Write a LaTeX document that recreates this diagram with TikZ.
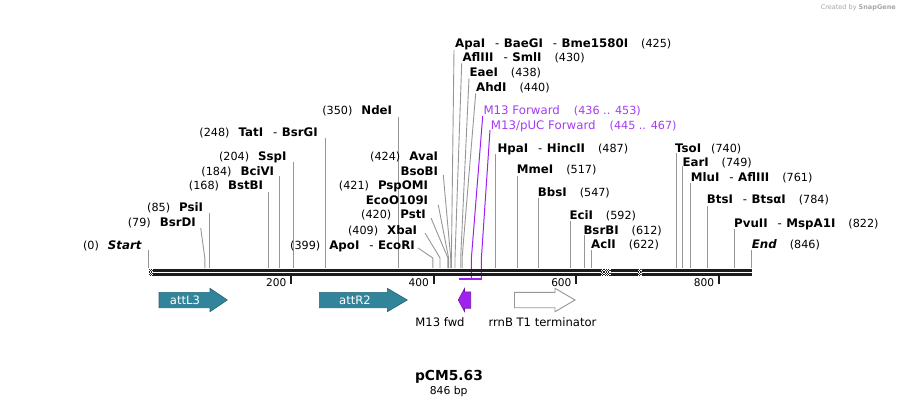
\documentclass[tikz,border=0pt]{standalone}
\usepackage{fontspec}
\setmainfont{DejaVu Sans}
\newcommand{\nm}{\fontsize{11.8}{13}\selectfont\bfseries}
\newcommand{\nmb}{\fontsize{11.2}{13}\selectfont\mdseries}
\newcommand{\ds}{\hspace{10pt}{\mdseries -}\hspace{4.5pt}}
\newcommand{\llab}[2]{{\nmb (#1)}\hspace{9pt}{\nm #2}}
\newcommand{\rlab}[2]{{\nm #1}\hspace{13pt}{\nmb (#2)}}
\newcommand{\bpx}[1]{(148.5+0.7128*#1)}
\definecolor{att}{RGB}{50,132,155}
\definecolor{attd}{RGB}{35,100,120}
\definecolor{prim}{RGB}{160,32,240}
\definecolor{primt}{RGB}{165,60,240}
\definecolor{sitec}{RGB}{150,150,150}
\definecolor{bb}{RGB}{28,28,28}
\tikzset{
  ll/.style={inner sep=0pt, anchor=base east},
  rl/.style={inner sep=0pt, anchor=base west},
  sline/.style={draw=sitec, line width=0.9pt},
  pline/.style={draw=prim, line width=1pt},
  featlab/.style={inner sep=0pt, font=\fontsize{11.6}{13}\selectfont},
}
\begin{document}
\begin{tikzpicture}[x=1pt,y=-1pt]
\useasboundingbox (0,0) rectangle (900,408);

% ---------- site lines (vertical) ----------
\foreach \xx/\yt in {398/116.7, 325.3/138.3, 293.9/161.7, 279.7/176, 268.2/191.7, 209.1/212.7, 148.5/250,
  495.6/154, 517/176, 538.4/197.7, 570.5/221, 584.7/235, 591.9/250,
  676/153, 682.4/166, 690.9/183, 707.3/206, 734.4/229, 751.5/250}
  \draw[sline] (\xx,\yt) -- (\xx,268);
% slanted site lines
\foreach \xa/\ya/\xb in {200.7/228/204.8, 443.3/175/450.7, 438.3/205/448.6, 431/218/447.9, 425/233/440, 418/248/432.9,
  454/50/451.4, 461.7/63.3/455, 469/78.3/460.7, 475.7/93.3/462.1}
  \draw[sline] (\xa,\ya) -- (\xb,258) -- (\xb,268);
% primer lines
\draw[pline] (482.7,116) -- (471.4,258) -- (471.4,279);
\draw[pline] (490,130) -- (481.4,258) -- (481.4,279);
\draw[draw=prim, line width=1.8pt] (458.5,279) -- (482,279);

% ---------- backbone ----------
\draw[bb, line width=2.6pt] (148.5,270.3) -- (752,270.3);
\draw[bb, line width=2.4pt] (148.5,274.5) -- (752,274.5);
\foreach \xa/\xb/\n in {148.5/153/4, 601/611/9, 638/641.5/3}{
  \fill[white] (\xa,268.9) rectangle (\xb,275.8);
  \begin{scope}
    \clip (\xa,268.9) rectangle (\xb,275.8);
    \foreach \i in {0,...,\n}{
      \foreach \j in {0,...,6}{
        \pgfmathtruncatemacro\p{mod(\i+\j,2)}
        \ifnum\p=0 \fill[bb] ({\xa+\i*1.2},{268.9+\j*1.2}) rectangle +(1.2,1.2);\fi
      }
    }
  \end{scope}
}
% ticks
\foreach \t in {200,400,600,800}{
  \draw[bb, line width=1.8pt] ({\bpx{\t}},276) -- ({\bpx{\t}},283.5);
  \node[ll, font=\fontsize{10.6}{12}\selectfont] (tick\t) at ({\bpx{\t}-4.5},286.5) {\t};
}

% ---------- left labels ----------
\node[ll] (nde) at (392.3,114.4) {\llab{350}{NdeI}};
\node[ll] (tat) at (318,136.1) {\llab{248}{TatI\ds BsrGI}};
\node[ll] (ssp) at (286.7,160.1) {\llab{204}{SspI}};
\node[ll] (bci) at (274.3,175.1) {\llab{184}{BciVI}};
\node[ll] (bst) at (263.3,189.4) {\llab{168}{BstBI}};
\node[ll] (psi) at (203.3,211.9) {\llab{85}{PsiI}};
\node[ll] (bsrd) at (196,226.1) {\llab{79}{BsrDI}};
\node[ll] (start) at (141.7,249.4) {{\nmb (0)}\hspace{9pt}{\nm\itshape Start}};
\node[ll] (ava) at (438.3,160.1) {\llab{424}{AvaI}};
\node[ll] (bso) at (438.3,175.1) {{\nm BsoBI}};
\node[ll] (psp) at (428.3,189.4) {\llab{421}{PspOMI}};
\node[ll] (eco) at (428.3,204.4) {{\nm EcoO109I}};
\node[ll] (pst) at (426,218.7) {\llab{420}{PstI}};
\node[ll] (xba) at (417.3,234.4) {\llab{409}{XbaI}};
\node[ll] (apo) at (415,249.4) {\llab{399}{ApoI\ds EcoRI}};

% ---------- right labels ----------
\node[rl] (apa) at (455,47.1) {\rlab{ApaI\ds BaeGI\ds Bme1580I}{425}};
\node[rl] (afl) at (462.3,61.1) {\rlab{AflIII\ds SmlI}{430}};
\node[rl] (eae) at (469.3,76.7) {\rlab{EaeI}{438}};
\node[rl] (ahd) at (476,91.1) {\rlab{AhdI}{440}};
\node[rl, text=primt, font=\fontsize{11.8}{13}\selectfont] (m13f) at (483.3,114.3) {M13 Forward\hspace{14pt}{\nmb (436 .. 453)}};
\node[rl, text=primt, font=\fontsize{11.8}{13}\selectfont] (m13p) at (490.7,129.3) {M13/pUC Forward\hspace{14pt}{\nmb (445 .. 467)}};
\node[rl] (hpa) at (497.3,152.1) {\rlab{HpaI\ds HincII}{487}};
\node[rl] (mme) at (516.7,173.7) {\rlab{MmeI}{517}};
\node[rl] (bbs) at (537.7,196.1) {\rlab{BbsI}{547}};
\node[rl] (eci) at (569.3,219.4) {\rlab{EciI}{592}};
\node[rl] (bsrb) at (583.3,234.4) {\rlab{BsrBI}{612}};
\node[rl] (acl) at (591,248.7) {\rlab{AclI}{622}};
\node[rl] (tso) at (675,152.7) {{\nm TsoI}\hspace{10pt}{\nmb (740)}};
\node[rl] (ear) at (682.3,166.1) {\rlab{EarI}{749}};
\node[rl] (mlu) at (690.7,181.7) {\rlab{MluI\ds AflIII}{761}};
\node[rl] (bts) at (706.7,203.7) {\rlab{BtsI\ds BtsαI}{784}};
\node[rl] (pvu) at (734,227.7) {\rlab{PvuII\ds MspA1I}{822}};
\node[rl] (endl) at (751.7,248.1) {{\nm\itshape End}\hspace{13pt}{\nmb (846)}};

% ---------- features ----------
\filldraw[fill=att, draw=attd, line width=0.6pt]
  (159,292.3) -- (210,292.3) -- (210,288.3) -- (227.3,300) -- (210,311.7) -- (210,307.7) -- (159,307.7) -- cycle;
\node[featlab, text=white] (attl3) at (185,300) {attL3};
\filldraw[fill=att, draw=attd, line width=0.6pt]
  (319.3,292.3) -- (387.3,292.3) -- (387.3,288.3) -- (407.3,300) -- (387.3,311.7) -- (387.3,307.7) -- (319.3,307.7) -- cycle;
\node[featlab, text=white] (attr2) at (355,300) {attR2};
\filldraw[fill=prim, draw=prim!70!black, line width=0.6pt]
  (458.3,300) -- (464.5,288.5) -- (464.5,291.8) -- (470.7,291.8) -- (470.7,308.2) -- (464.5,308.2) -- (464.5,311.5) -- cycle;
\node[featlab] (m13fwd) at (440,321.7) {M13 fwd};
\filldraw[fill=white, draw=sitec, line width=0.9pt]
  (514.5,292.3) -- (555,292.3) -- (555,288.3) -- (575,300) -- (555,311.7) -- (555,307.7) -- (514.5,307.7) -- cycle;
\node[featlab] (rrnb) at (542.5,321.7) {rrnB T1 terminator};

% ---------- title ----------
\node[inner sep=0pt, font=\fontsize{13.8}{15}\selectfont\bfseries] (title) at (449,376.7) {pCM5.63};
\node[inner sep=0pt, font=\fontsize{10.8}{12}\selectfont] (size) at (448.7,392) {846 bp};
\node[inner sep=0pt, anchor=east, text=black!35, font=\fontsize{6.5}{8}\selectfont] (credit) at (896,7.5) {Created by \textbf{SnapGene}};
\end{tikzpicture}
\end{document}
